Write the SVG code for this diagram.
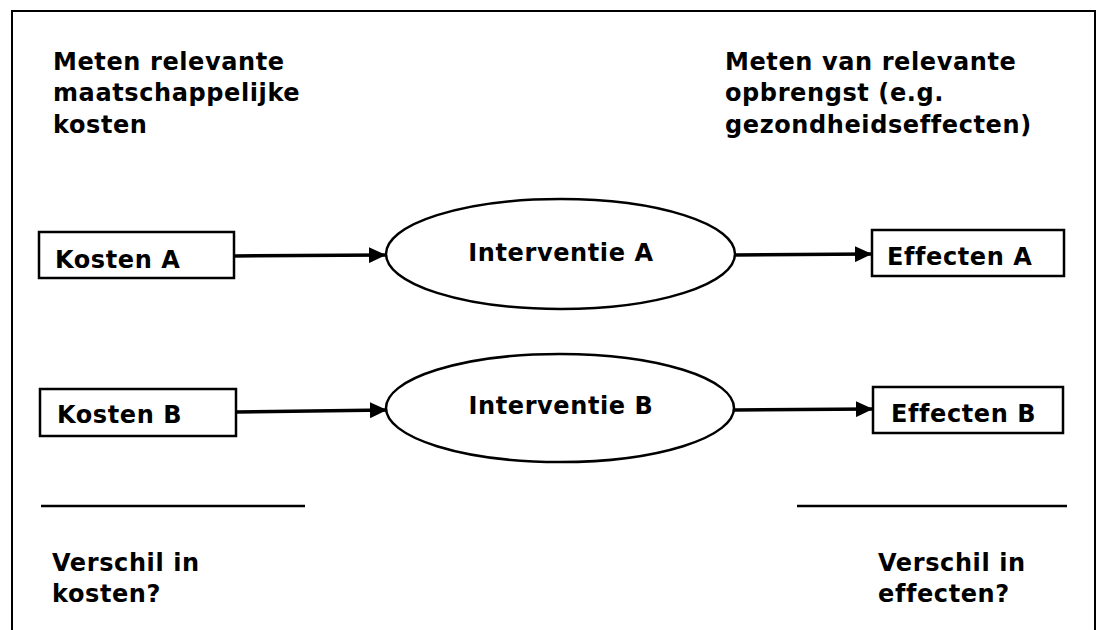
<svg xmlns="http://www.w3.org/2000/svg" width="1103" height="630" viewBox="0 0 1103 630">
  <style>
    text { font-family: "DejaVu Sans", Verdana, sans-serif; font-weight: bold; font-size: 24px; letter-spacing: 0.6px; fill: #000; }
    .box { fill: #fff; stroke: #000; stroke-width: 2.5; }
    .ell { fill: #fff; stroke: #000; stroke-width: 2.5; }
    .conn { stroke: #000; stroke-width: 3.5; fill: none; marker-end: url(#arrow); }
    .rule { stroke: #000; stroke-width: 2.5; }
  </style>
  <defs>
    <marker id="arrow" markerUnits="userSpaceOnUse" markerWidth="18" markerHeight="16" refX="17" refY="8" orient="auto">
      <path d="M0,0 L17,8 L0,16 Z" fill="#000"/>
    </marker>
  </defs>
  <rect width="1103" height="630" fill="#fff"/>
  <path id="frame" d="M12,630 L12,11 L1095,11 L1095,630" fill="none" stroke="#000" stroke-width="2"/>

  <g id="label-kosten-meten">
    <text x="53" y="70">Meten relevante</text>
    <text x="53" y="101">maatschappelijke</text>
    <text x="53" y="133">kosten</text>
  </g>
  <g id="label-opbrengst-meten">
    <text x="725" y="70">Meten van relevante</text>
    <text x="725" y="101">opbrengst (e.g.</text>
    <text x="725" y="133">gezondheidseffecten)</text>
  </g>

  <g id="connectors">
    <line class="conn" x1="234" y1="256" x2="386" y2="255"/>
    <line class="conn" x1="735" y1="255" x2="872" y2="254"/>
    <line class="conn" x1="236" y1="412" x2="387" y2="410"/>
    <line class="conn" x1="734" y1="410" x2="873" y2="409"/>
  </g>

  <g id="kosten-a">
    <rect class="box" x="39" y="232" width="195" height="46"/>
    <text x="55" y="268">Kosten A</text>
  </g>
  <g id="interventie-a">
    <ellipse class="ell" cx="560.5" cy="254" rx="174.5" ry="55"/>
    <text x="561" y="261" text-anchor="middle">Interventie A</text>
  </g>
  <g id="effecten-a">
    <rect class="box" x="872" y="230" width="192" height="46"/>
    <text x="887" y="265">Effecten A</text>
  </g>

  <g id="kosten-b">
    <rect class="box" x="40" y="389" width="196" height="47"/>
    <text x="57" y="423">Kosten B</text>
  </g>
  <g id="interventie-b">
    <ellipse class="ell" cx="560" cy="408" rx="174" ry="54"/>
    <text x="561" y="414" text-anchor="middle">Interventie B</text>
  </g>
  <g id="effecten-b">
    <rect class="box" x="873" y="387" width="190" height="46"/>
    <text x="891" y="422">Effecten B</text>
  </g>

  <g id="verschil-kosten">
    <line class="rule" x1="41" y1="506" x2="305" y2="506"/>
    <text x="52" y="571">Verschil in</text>
    <text x="52" y="602">kosten?</text>
  </g>
  <g id="verschil-effecten">
    <line class="rule" x1="797" y1="506" x2="1067" y2="506"/>
    <text x="878" y="571">Verschil in</text>
    <text x="878" y="602">effecten?</text>
  </g>
</svg>
